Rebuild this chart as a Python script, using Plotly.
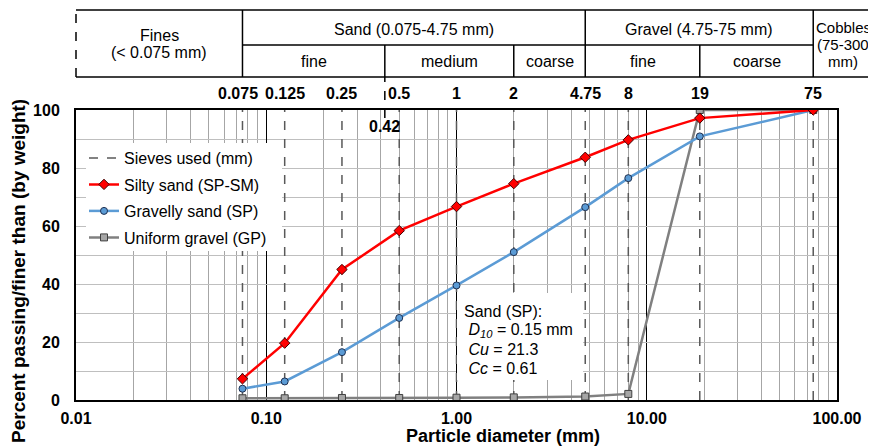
import numpy as np
import plotly.graph_objects as go

# ---------------- data ----------------
sieves = [0.075, 0.125, 0.25, 0.5, 1, 2, 4.75, 8, 19, 75]
sieve_labels = ["0.075", "0.125", "0.25", "0.5", "1", "2", "4.75", "8", "19", "75"]
silty_sand = [7.3, 19.6, 45.0, 58.4, 66.7, 74.6, 83.7, 89.7, 97.2, 100]
gravelly_sand = [3.9, 6.4, 16.5, 28.3, 39.5, 51.0, 66.5, 76.5, 90.9, 100]
uniform_gravel = [0.6, 0.6, 0.7, 0.7, 0.8, 0.9, 1.2, 2.1, 100, 100]

x_ticks = [0.01, 0.1, 1, 10, 100]
x_tick_labels = ["0.01", "0.10", "1.00", "10.00", "100.00"]
y_ticks = [0, 20, 40, 60, 80, 100]
minor_x = [m * d for d in [0.01, 0.1, 1, 10] for m in range(2, 10)]

# classification header (boundaries in mm)
fines_limit = 0.075
sand_med_limit = 0.42
sand_coarse_limit = 2
gravel_limit = 4.75
gravel_coarse_limit = 19
cobble_limit = 75

FONT = "Arial, 'Liberation Sans', sans-serif"
XMIN, XMAX = -2, 2
# the page body has an 8 px margin; work in window pixels and shift
OFF = 8
W, H = 876 - OFF, 446 - OFF
PL, PR, PT, PB = 76 - OFF, 837 - OFF, 110 - OFF, 400 - OFF


def px(v):  # data (mm) -> paper x
    return (np.log10(v) - XMIN) / (XMAX - XMIN)


def pxx(p):  # window pixel x -> paper
    return (p - OFF - PL) / (PR - PL)


def pyy(p):  # window pixel y -> paper
    return (PB - (p - OFF)) / (PB - PT)


fig = go.Figure()

# sieve lines
sx, sy = [], []
for s in sieves:
    sx += [s, s, None]
    sy += [0, 100, None]
fig.add_trace(go.Scatter(x=sx, y=sy, mode="lines", name="Sieves used (mm)",
                         line=dict(color="#595959", width=1.5, dash="dash"),
                         legend="legend", hoverinfo="skip"))

fig.add_trace(go.Scatter(x=sieves, y=uniform_gravel, mode="lines+markers",
                         name="Uniform gravel (GP)", legend="legend4",
                         line=dict(color="#808080", width=2.5),
                         marker=dict(symbol="square", size=7, color="#a6a6a6",
                                     line=dict(color="#404040", width=1))))
fig.add_trace(go.Scatter(x=sieves, y=gravelly_sand, mode="lines+markers",
                         name="Gravelly sand (SP)", legend="legend3",
                         line=dict(color="#5b9bd5", width=2.5),
                         marker=dict(symbol="circle", size=7, color="#5b9bd5",
                                     line=dict(color="#1f3050", width=1))))
fig.add_trace(go.Scatter(x=sieves, y=silty_sand, mode="lines+markers",
                         name="Silty sand (SP-SM)", legend="legend2",
                         line=dict(color="#ff0000", width=2.5),
                         marker=dict(symbol="diamond", size=8, color="#ff0000",
                                     line=dict(color="#400000", width=1))))

shapes = []
LINE = dict(color="black", width=1.5)
# legend background
shapes.append(dict(type="rect", xref="paper", yref="paper", layer="above",
                   x0=pxx(86), x1=pxx(282), y0=pyy(251), y1=pyy(143),
                   fillcolor="white", line=dict(width=0)))
# annotation background
shapes.append(dict(type="rect", xref="paper", yref="paper", layer="above",
                   x0=pxx(457), x1=pxx(583), y0=pyy(380), y1=pyy(293),
                   fillcolor="white", line=dict(width=0)))

# header table
y_top, y_mid, y_bot = pyy(10), pyy(45), pyy(77)
x_left, x_right = 0.0, pxx(875)
shapes += [
    dict(type="line", xref="paper", yref="paper", x0=x_left, x1=x_right, y0=y_top, y1=y_top, line=LINE),
    dict(type="line", xref="paper", yref="paper", x0=x_left, x1=x_right, y0=y_bot, y1=y_bot, line=LINE),
    dict(type="line", xref="paper", yref="paper", x0=px(fines_limit), x1=px(cobble_limit), y0=y_mid, y1=y_mid, line=LINE),
    dict(type="line", xref="paper", yref="paper", x0=x_left, x1=x_left, y0=y_bot, y1=y_top,
         line=dict(color="black", width=1.5, dash="dash")),
    dict(type="line", xref="paper", yref="paper", x0=x_right, x1=x_right, y0=y_bot, y1=y_top,
         line=dict(color="#808080", width=1.5, dash="dash")),
]
for v in [fines_limit, gravel_limit, cobble_limit]:
    shapes.append(dict(type="line", xref="paper", yref="paper", x0=px(v), x1=px(v), y0=y_bot, y1=y_top, line=LINE))
for v in [sand_med_limit, sand_coarse_limit, gravel_coarse_limit]:
    shapes.append(dict(type="line", xref="paper", yref="paper", x0=px(v), x1=px(v), y0=y_bot, y1=y_mid, line=LINE))
# 0.42 dashed marker
shapes.append(dict(type="line", xref="paper", yref="paper", x0=px(sand_med_limit), x1=px(sand_med_limit),
                   y0=pyy(118), y1=y_bot, line=dict(color="black", width=1.5, dash="dash")))

ann = []


def txt(x, y, t, size=16, **kw):
    d = dict(xref="paper", yref="paper", x=x, y=y, text=t, showarrow=False,
             font=dict(family=FONT, size=size, color="black"), xanchor="center", yanchor="middle")
    d.update(kw)
    ann.append(d)


# header texts
mid = lambda a, b: (a + b) / 2
txt(mid(0, px(fines_limit)), pyy(36), "Fines")
txt(mid(0, px(fines_limit)), pyy(53), "(< 0.075 mm)")
txt(mid(px(fines_limit), px(gravel_limit)), pyy(30), "Sand (0.075-4.75 mm)")
txt(mid(px(gravel_limit), px(cobble_limit)), pyy(30), "Gravel (4.75-75 mm)")
txt(mid(px(fines_limit), px(sand_med_limit)), pyy(62), "fine")
txt(mid(px(sand_med_limit), px(sand_coarse_limit)), pyy(62), "medium")
txt(mid(px(sand_coarse_limit), px(gravel_limit)), pyy(62), "coarse")
txt(mid(px(gravel_limit), px(gravel_coarse_limit)), pyy(62), "fine")
txt(mid(px(gravel_coarse_limit), px(cobble_limit)), pyy(62), "coarse")
cx = pxx(843)
txt(cx, pyy(27), "Cobbles", size=15)
txt(cx, pyy(44), "(75-300", size=15)
txt(cx, pyy(62), "mm)", size=15)

# sieve labels above the plot
for s, lab in zip(sieves, sieve_labels):
    ann.append(dict(xref="x", yref="paper", x=np.log10(s), y=pyy(94), text="<b>" + lab + "</b>",
                    showarrow=False, font=dict(family=FONT, size=16, color="black"),
                    xanchor="center", yanchor="middle", xshift=-4 if s == fines_limit else 0))
ann.append(dict(xref="x", yref="paper", x=np.log10(sand_med_limit), y=pyy(126), text="<b>0.42</b>",
                showarrow=False, font=dict(family=FONT, size=16, color="black"),
                xanchor="center", yanchor="middle"))

# info box
txt(pxx(462), pyy(311), "Sand (SP):", xanchor="left")
txt(pxx(462), pyy(330), " <i>D</i><sub><i>10</i></sub> = 0.15 mm", xanchor="left")
txt(pxx(462), pyy(349), " <i>Cu</i> = 21.3", xanchor="left")
txt(pxx(462), pyy(368), " <i>Cc</i> = 0.61", xanchor="left")

# axis titles
txt(pxx(503), pyy(436), "<b>Particle diameter (mm)</b>", size=18)
txt(pxx(18), pyy(271), "<b>Percent passing/finer than (by weight)</b>", size=19, textangle=-90)

legend_common = dict(xanchor="left", yanchor="middle", bgcolor="rgba(0,0,0,0)", borderwidth=0,
                     font=dict(family=FONT, size=16, color="black"), x=pxx(84))

fig.update_layout(
    width=W, height=H,
    margin=dict(l=PL, r=W - PR, t=PT, b=H - PB, pad=0),
    paper_bgcolor="white", plot_bgcolor="white",
    font=dict(family=FONT, size=15, color="black"),
    showlegend=True,
    legend=dict(legend_common, y=pyy(158)),
    legend2=dict(legend_common, y=pyy(184.5)),
    legend3=dict(legend_common, y=pyy(211)),
    legend4=dict(legend_common, y=pyy(237.5)),
    xaxis=dict(type="log", range=[XMIN, XMAX], tickmode="array", tickvals=x_ticks,
               ticktext=["<b>%s</b>" % t for t in x_tick_labels],
               showgrid=True, gridcolor="black", gridwidth=1.2,
               minor=dict(tickmode="array", tickvals=minor_x, showgrid=True, gridcolor="#a6a6a6", gridwidth=1,
                          ticks=""),
               showline=True, linecolor="black", linewidth=2, mirror=True, layer="below traces",
               ticks="outside", ticklen=3, tickcolor="rgba(0,0,0,0)",
               tickfont=dict(family=FONT, size=16, color="black"), zeroline=False),
    yaxis=dict(range=[0, 100], tickmode="array", tickvals=y_ticks,
               ticktext=["<b>%d</b>" % t for t in y_ticks],
               showgrid=True, gridcolor="#bfbfbf", gridwidth=1,
               minor=dict(dtick=10, showgrid=True, gridcolor="#bfbfbf", gridwidth=1, ticks=""),
               showline=True, linecolor="black", linewidth=2, mirror=True, layer="below traces",
               ticks="outside", ticklen=11, tickcolor="rgba(0,0,0,0)",
               tickfont=dict(family=FONT, size=16, color="black"), zeroline=False),
    shapes=shapes,
    annotations=ann,
)

fig.write_html("out.html")
